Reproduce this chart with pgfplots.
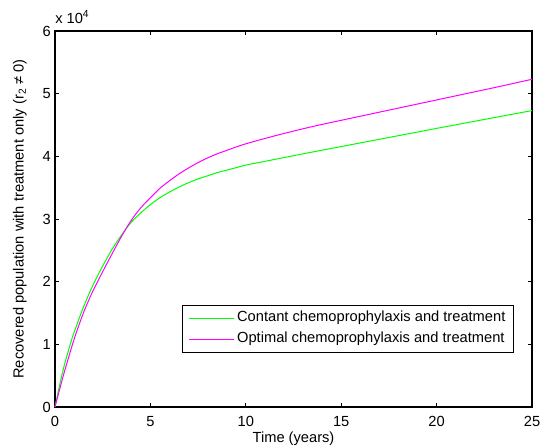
\documentclass[border=0pt]{standalone}
\usepackage{fontspec}
\setmainfont{Liberation Sans}
\usepackage{pgfplots}
\pgfplotsset{compat=1.18}
\usepackage{pgfplotstable}
\definecolor{mgreen}{rgb}{0,1,0}
\definecolor{mmagenta}{rgb}{1,0,1}

\pgfplotstableread{
t y
0 0
0.25 3600
0.5 6800
0.8 10000
1.0 11900
1.5 16000
2.0 19500
2.5 22500
3.0 25200
3.5 27500
4.0 29500
4.5 31000
5.0 32300
5.5 33400
6.0 34300
6.5 35100
7.0 35800
7.5 36400
8.0 36900
8.5 37400
9.0 37800
9.5 38200
10 38600
11 39200
12 39800
13 40400
14 40980
15 41560
16 42140
17 42720
18 43300
19 43880
20 44460
21 45030
22 45600
23 46170
24 46740
25 47300
}\constanttab

\pgfplotstableread{
t y
0 0
0.25 2900
0.5 5700
1.0 10800
1.5 15100
2.0 18600
2.5 21600
3.0 24500
3.5 27300
4.0 29800
4.5 31800
5.0 33400
5.5 34900
6.0 36100
6.5 37200
7.0 38150
7.5 39000
8.0 39750
8.5 40400
9.0 40950
9.5 41500
10 42000
11 42850
12 43650
13 44400
14 45100
15 45750
16 46400
17 47050
18 47700
19 48350
20 49000
21 49650
22 50300
23 50950
24 51620
25 52300
}\optimaltab

\begin{document}
\begin{tikzpicture}
\useasboundingbox (-41.25pt,-30pt) rectangle (368.25pt,305.25pt);
\begin{axis}[
  at={(0,0)}, anchor=south west,
  scale only axis, width=357.75pt, height=282pt,
  xmin=0, xmax=25, ymin=0, ymax=60000,
  clip=false,
  xtick={0,5,10,15,20,25}, xticklabels={0,5,10,15,20,25},
  ytick={0,10000,20000,30000,40000,50000,60000}, yticklabels={0,1,2,3,4,5,6},
  scaled ticks=false,
  tick align=inside, major tick length=3pt,
  axis line style={line width=0.8pt},
  tick style={line width=0.6pt, black},
  font=\fontsize{11}{13}\selectfont,
  xticklabel style={yshift=-3.7pt},
  yticklabel style={xshift=0.4pt},
  xlabel={Time (years)},
  xlabel style={at={(rel axis cs:0.5,0)}, anchor=north, inner sep=0pt, yshift=-18.3pt},
  ylabel={Recovered population with treatment only (r\textsubscript{2} ≠ 0)},
  ylabel style={at={([xshift=-26.3pt]rel axis cs:0,0.5)}, anchor=center},
  legend cell align=left,
  legend style={at={(0.267,0.271)}, anchor=north west, draw=black, line width=0.6pt,
    inner xsep=4.3pt, inner ysep=1.75pt, row sep=0pt,
    font=\fontsize{11}{13}\selectfont,
    nodes={inner xsep=2pt, inner ysep=2.6pt, text height=8pt, text depth=2.5pt}},
  legend image code/.code={\draw[#1] (0pt,0pt) -- (33.75pt,0pt);},
]
\addplot[color=mgreen, line width=0.75pt, smooth] table[x=t,y=y] {\constanttab};
\addlegendentry{Contant chemoprophylaxis and treatment}
\addplot[color=mmagenta, line width=0.75pt, smooth] table[x=t,y=y] {\optimaltab};
\addlegendentry{Optimal chemoprophylaxis and treatment}
\node[anchor=base west, inner sep=0pt, yshift=5.8pt] at (rel axis cs:0,1) {x 10\textsuperscript{4}};
\end{axis}
\end{tikzpicture}
\end{document}
